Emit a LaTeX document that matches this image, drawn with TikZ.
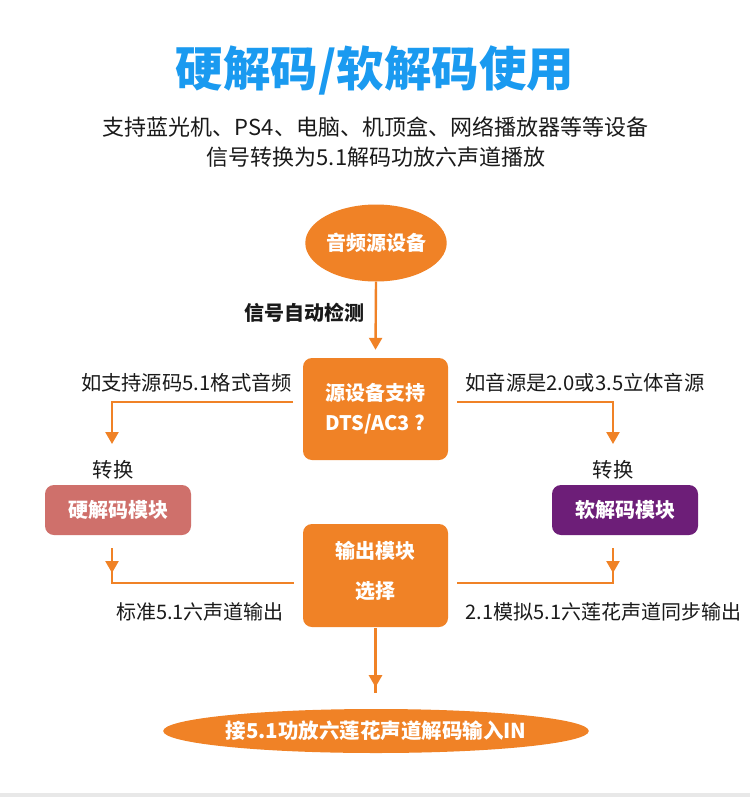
\documentclass[tikz,border=0pt]{standalone}
\usepackage{fontspec}
\setmainfont{Noto Sans CJK SC}
\usetikzlibrary{shapes.geometric,arrows.meta,decorations.markings}
\definecolor{ora}{HTML}{F08226}
\definecolor{tblue}{HTML}{1A9AF0}
\definecolor{salmon}{HTML}{CF706B}
\definecolor{purp}{HTML}{6D1E78}
\definecolor{ink}{HTML}{1A1A1A}
\definecolor{band}{HTML}{E8E8E8}
\begin{document}
\begin{tikzpicture}[x=1pt,y=-1pt,
  title/.style={text=tblue,font=\fontsize{47.5}{50}\selectfont\bfseries,inner sep=0pt},
  sub/.style={text=ink,font=\fontsize{22}{26}\selectfont,inner sep=0pt},
  lbl/.style={text=ink,font=\fontsize{20.3}{24}\selectfont,inner sep=0pt},
  lbls/.style={text=ink,font=\fontsize{20}{23}\selectfont,inner sep=0pt},
  blbl/.style={text=ink,font=\fontsize{20}{24}\selectfont\bfseries,inner sep=0pt},
  wlbl/.style={text=white,font=\fontsize{20}{24}\selectfont\bfseries,inner sep=0pt},
  ell/.style={ellipse,fill=ora,text=white,inner sep=0pt,font=\fontsize{20}{24}\selectfont\bfseries},
  box/.style={rectangle,rounded corners=9pt,fill=#1,text=white,inner sep=0pt,align=center},
  conn/.style={draw=ora,line width=2.4pt},
  tip/.style={-{Triangle[width=13pt,length=12pt]}},
  midtip/.style={postaction={decorate},decoration={markings,mark=at position #1 with {\arrow{Triangle[width=13pt,length=12pt]}}}}
]
\useasboundingbox (0,0) rectangle (750,797);
\fill[white] (0,0) rectangle (750,797);
\fill[band] (0,793) rectangle (750,797);

\node[title] (title) at (375,70) {硬解码/软解码使用};
\node[sub] (sub1) at (375.5,127) {支持蓝光机、PS4、电脑、机顶盒、网络播放器等等设备};
\node[sub] (sub2) at (376,157) {信号转换为5.1解码功放六声道播放};

\node[ell,minimum width=121pt,minimum height=77pt] (src) at (376,243) {音频源设备};
\node[blbl] (detect) at (304,313) {信号自动检测};

\node[box=ora,minimum width=145pt,minimum height=102pt,font=\fontsize{20}{30}\selectfont\bfseries] (q) at (375.5,409) {源设备支持\\DTS/AC3 ?};

\coordinate (qtop) at ([yshift=8pt]q.north);
\draw[conn,tip] (src.south) -- (qtop);

\node[lbl] (lq) at (186.5,383) {如支持源码5.1格式音频};
\node[lbl] (rq) at (585,383) {如音源是2.0或3.5立体音源};

\coordinate (la) at (293,402);
\coordinate (lb) at (112,402);
\coordinate (lc) at (112,444);
\coordinate (ra) at (457,402);
\coordinate (rb) at (613,402);
\coordinate (rc) at (613,444);
\draw[conn,tip] (la) -- (lb) -- (lc);
\draw[conn,tip] (ra) -- (rb) -- (rc);

\node[lbl] (cl) at (113,470) {转换};
\node[lbl] (cr) at (613,470) {转换};

\node[box=salmon,minimum width=146pt,minimum height=50pt,font=\fontsize{20}{24}\selectfont\bfseries] (hard) at (118,510) {硬解码模块};
\node[box=purp,minimum width=146pt,minimum height=50pt,font=\fontsize{20}{24}\selectfont\bfseries] (soft) at (625,510) {软解码模块};

\node[box=ora,minimum width=145pt,minimum height=103pt] (out) at (375.5,575.5) {};
\node[wlbl] (out1) at (375.5,551) {输出模块};
\node[wlbl] (out2) at (375.5,591) {选择};

\coordinate (ha) at (112,548);
\coordinate (hb) at (112,583);
\coordinate (hc) at (294,583);
\coordinate (sa) at (613,548);
\coordinate (sb) at (613,583);
\coordinate (sc) at (457,583);
\draw[conn,midtip=25pt] (ha) -- (hb) -- (hc);
\draw[conn,midtip=25pt] (sa) -- (sb) -- (sc);

\node[lbls] (ol) at (200,612) {标准5.1六声道输出};
\node[lbls] (or) at (603.5,612) {2.1模拟5.1六莲花声道同步输出};

\node[ell,minimum width=352pt,minimum height=44pt,font=\fontsize{20.5}{24}\selectfont\bfseries] (dst) at (376,731) {接5.1功放六莲花声道解码输入IN};

\coordinate (oa) at ([yshift=-1pt]out.south);
\coordinate (ob) at (375.5,693);
\draw[conn,midtip=59pt] (oa) -- (ob);
\end{tikzpicture}
\end{document}
